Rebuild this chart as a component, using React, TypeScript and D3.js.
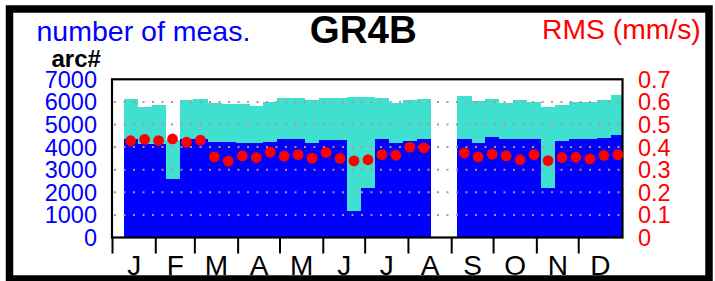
import { useEffect, useRef } from 'react';
import * as d3 from 'd3';

// 10-day bins, centre day of year (no data for the two bins around late Aug)
const BIN_DAYS = [13, 23, 33, 43, 53, 63, 73, 83, 93, 103, 113, 123, 133, 143, 153, 163, 173, 183,
  193, 203, 213, 223, 252, 262, 272, 282, 292, 302, 312, 322, 332, 342, 352, 362];
// all measurements (turquoise)
const MEAS_TOTAL = [6120, 5780, 5850, 4300, 6070, 6150, 5950, 5920, 5920, 5820, 6000, 6190, 6160, 6100,
  6190, 6175, 6220, 6220, 6175, 5970, 6100, 6130, 6250, 6040, 6150, 5970, 6070, 6000, 5780, 5880,
  6000, 6000, 6070, 6290];
// arcs (blue)
const MEAS_ARC = [4340, 4120, 4130, 2600, 4360, 4370, 4230, 4230, 4190, 4160, 4230, 4380, 4340, 4200,
  4310, 4310, 1190, 2170, 4340, 4200, 4280, 4340, 4350, 4160, 4450, 4365, 4380, 4380, 2200, 4280,
  4340, 4340, 4410, 4530];
// RMS (mm/s), red dots
const RMS = [0.428, 0.434, 0.429, 0.436, 0.422, 0.431, 0.357, 0.338, 0.361, 0.354, 0.378, 0.360,
  0.367, 0.351, 0.376, 0.350, 0.339, 0.344, 0.367, 0.364, 0.400, 0.397, 0.374, 0.357, 0.369, 0.361,
  0.344, 0.367, 0.340, 0.354, 0.355, 0.348, 0.363, 0.367];

const MONTHS = ['J', 'F', 'M', 'A', 'M', 'J', 'J', 'A', 'S', 'O', 'N', 'D'];
const MONTH_START = [0, 31, 59, 90, 120, 151, 181, 212, 243, 273, 304, 334, 365];
const LEFT_TICKS = [0, 1000, 2000, 3000, 4000, 5000, 6000, 7000];
const RIGHT_TICKS = [0, 0.1, 0.2, 0.3, 0.4, 0.5, 0.6, 0.7];
const GRID = [1000, 2000, 3000, 4000, 5000, 6000];

export default function App() {
  const svgRef = useRef<SVGSVGElement>(null);

  useEffect(() => {
    const el = svgRef.current;
    if (!el) return;
    const svg = d3.select(el);
    svg.selectAll('*').remove();

    const L = 112, R = 622.5, T = 79.3, B = 237.5;
    const font = "'Liberation Sans', Arial, Helvetica, sans-serif";

    const x = d3.scaleLinear().domain([0, 365]).range([112.5, 622]);
    const yN = d3.scaleLinear().domain([0, 7000]).range([B, T]);
    const yR = d3.scaleLinear().domain([0, 0.7]).range([B, T]);

    const bins = BIN_DAYS.map((d, i) => ({ d, total: MEAS_TOTAL[i], arc: MEAS_ARC[i], rms: RMS[i] }));

    svg.append('defs').append('clipPath').attr('id', 'plotclip')
      .append('rect').attr('x', L).attr('y', T).attr('width', R - L).attr('height', B - T);

    const g = svg.append('g').attr('clip-path', 'url(#plotclip)');
    const bw = x(10) - x(0);

    g.selectAll('.tot').data(bins).join('rect').attr('class', 'tot')
      .attr('x', (b) => x(b.d - 5)).attr('width', bw + 0.3)
      .attr('y', (b) => yN(b.total)).attr('height', (b) => B - yN(b.total))
      .attr('fill', '#40e0d0').attr('shape-rendering', 'crispEdges');

    g.selectAll('.arc').data(bins).join('rect').attr('class', 'arc')
      .attr('x', (b) => x(b.d - 5)).attr('width', bw + 0.3)
      .attr('y', (b) => yN(b.arc)).attr('height', (b) => B - yN(b.arc))
      .attr('fill', '#0000ff').attr('shape-rendering', 'crispEdges');

    // dotted grid
    g.selectAll('.grid').data(GRID).join('line').attr('class', 'grid')
      .attr('x1', L + 2).attr('x2', R)
      .attr('y1', (v) => yN(v)).attr('y2', (v) => yN(v))
      .attr('stroke', '#bc8f8f').attr('stroke-width', 2).attr('stroke-dasharray', '2,7.5');

    // plot frame
    svg.append('rect').attr('x', L).attr('y', T).attr('width', R - L).attr('height', B - T)
      .attr('fill', 'none').attr('stroke', '#000').attr('stroke-width', 2.2);

    // month ticks + labels
    svg.selectAll('.mtick').data(MONTH_START.slice(0, 12)).join('line').attr('class', 'mtick')
      .attr('x1', (d) => x(d)).attr('x2', (d) => x(d))
      .attr('y1', B).attr('y2', 253.5)
      .attr('stroke', '#000').attr('stroke-width', 2);

    svg.selectAll('.mlab').data(MONTHS).join('text').attr('class', 'mlab')
      .attr('x', (_, i) => x((MONTH_START[i] + MONTH_START[i + 1]) / 2))
      .attr('y', 274.5)
      .attr('text-anchor', 'middle').attr('font-family', font).attr('font-size', 28)
      .attr('fill', '#000').text((d) => d);

    // RMS dots
    svg.selectAll('.dot').data(bins).join('circle').attr('class', 'dot')
      .attr('cx', (b) => x(b.d)).attr('cy', (b) => yR(b.rms)).attr('r', 5.4)
      .attr('fill', '#ff0000');

    // y tick labels
    svg.selectAll('.ly').data(LEFT_TICKS).join('text').attr('class', 'ly')
      .attr('x', 97).attr('y', (v) => yN(v)).attr('dy', '0.36em')
      .attr('text-anchor', 'end').attr('font-family', font).attr('font-size', 23.5)
      .attr('fill', '#0000ff').text((v) => String(v));

    svg.selectAll('.ry').data(RIGHT_TICKS).join('text').attr('class', 'ry')
      .attr('x', 638).attr('y', (v) => yR(v)).attr('dy', '0.36em')
      .attr('text-anchor', 'start').attr('font-family', font).attr('font-size', 23.5)
      .attr('fill', '#ff0000').text((v) => (v === 0 ? '0' : v.toFixed(1)));

    // titles
    svg.append('text').attr('x', 36.5).attr('y', 40.5)
      .attr('font-family', font).attr('font-size', 28.5).attr('fill', '#0000ff')
      .text('number of meas.');
    svg.append('text').attr('x', 363.3).attr('y', 42.5).attr('text-anchor', 'middle')
      .attr('font-family', font).attr('font-size', 38.5).attr('font-weight', 'bold').attr('fill', '#000')
      .text('GR4B');
    svg.append('text').attr('x', 542).attr('y', 38.5)
      .attr('font-family', font).attr('font-size', 28.3).attr('fill', '#ff0000')
      .text('RMS (mm/s)');
    svg.append('text').attr('x', 51.5).attr('y', 67)
      .attr('font-family', font).attr('font-size', 24).attr('font-weight', 'bold').attr('fill', '#000')
      .text('arc#');

    // outer frame
    svg.append('rect').attr('x', 9.5).attr('y', 9).attr('width', 699.5).attr('height', 270)
      .attr('fill', 'none').attr('stroke', '#000').attr('stroke-width', 7.5);
  }, []);

  return (
    <svg ref={svgRef} width={715} height={281}
      style={{ position: 'absolute', left: 0, top: 0, background: '#fff' }} />
  );
}
